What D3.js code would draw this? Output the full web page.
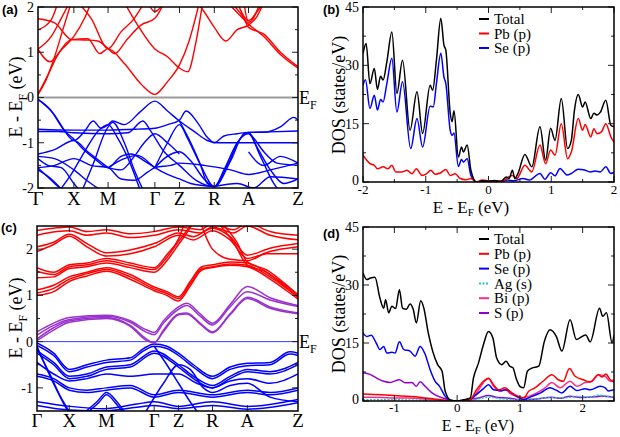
<!DOCTYPE html>
<html><head><meta charset="utf-8">
<script src="https://cdn.jsdelivr.net/npm/d3@7"></script>
<style>body{margin:0;background:#fff}svg{display:block}</style>
</head><body><svg id="c" width="620" height="437"></svg>
<script>
// ---------------- DATA ----------------
const kLabels = ["Γ","X","M","Γ","Z","R","A","Z"];
const kPosA = [0,1.08,2.11,3.52,4.26,5.31,6.34,7.83];
const kPosC = [0,0.97,2.09,3.52,4.25,5.27,6.32,7.84];

// panel (a) conduction bands (k, E)
const bandsA_cond = [
 [[0,0.07],[0.25,0.4],[0.5,0.9],[0.75,1.5],[1.0,2.1]],
 [[0,0.07],[0.3,0.5],[0.6,0.95],[1.01,1.28],[1.5,1.3],[1.86,0.97],[2.11,1.08],[2.6,0.75],[3.1,0.3],[3.52,0.07],[3.9,0.35],[4.26,0.72],[4.55,1.25],[4.86,2.1]],
 [[0,1.07],[0.36,0.79],[0.7,1.05],[1.08,1.35],[1.4,1.75],[1.6,2.1]],
 [[0,1.07],[0.4,1.35],[0.7,1.75],[0.95,2.1]],
 [[0,1.5],[0.4,1.72],[0.6,2.1]],
 [[0,1.74],[0.5,1.65],[1.01,1.28],[1.4,1.27],[1.8,1.25],[2.11,1.08],[2.31,0.97],[2.7,1.3],[3.1,1.6],[3.52,1.75],[3.8,2.1]],
 [[1.2,2.1],[1.6,1.75],[2.11,1.08],[2.5,1.45],[2.9,1.75],[3.2,2.1]],
 [[2.6,2.1],[3.0,1.6],[3.52,1.07],[3.9,0.9],[4.26,0.65],[4.51,0.57],[4.75,1.2],[4.96,2.1]],
 [[3.3,2.1],[3.52,1.9],[3.8,2.1]],
 [[4.8,2.1],[5.0,1.9],[5.31,1.55],[5.66,1.25],[6.0,1.5],[6.34,1.6],[6.6,1.8],[6.8,2.1]],
 [[5.7,2.1],[6.1,1.8],[6.34,1.62],[6.8,1.35],[7.3,0.95],[7.83,0.65]],
 [[5.8,2.1],[6.2,1.75],[6.34,1.55],[6.8,1.4],[7.3,1.0],[7.83,0.68]],
 [[6.0,2.1],[6.34,1.7],[6.6,1.9],[6.8,2.1]],
 [[6.2,2.1],[6.34,1.66],[6.7,2.1]]
];
// panel (a) valence bands
const bandsA_val = [
 [[0,-0.04],[0.36,-0.26],[0.76,-0.7],[1.08,-0.95],[1.4,-0.75],[1.66,-0.52],[1.9,-0.68],[2.11,-0.6],[2.25,-0.52],[2.6,-0.6],[3.1,-0.3],[3.52,-0.08],[3.9,-0.3],[4.26,-0.52],[4.7,-0.75],[5.1,-0.95],[5.4,-1.0],[6.34,-1.0],[7.83,-1.0]],
 [[0,-0.04],[0.46,-0.35],[0.86,-0.78],[1.08,-0.92],[1.3,-1.1],[1.7,-1.35],[2.11,-1.55],[2.5,-1.3],[2.8,-1.25],[3.2,-1.4],[3.52,-1.55]],
 [[0,-0.7],[1.08,-0.72],[2.11,-0.72],[3.0,-0.7],[3.52,-0.68],[3.9,-0.6],[4.26,-0.5],[4.46,-0.3],[4.8,-0.55],[5.1,-0.88],[5.31,-1.0],[5.6,-0.85],[6.0,-0.8],[6.34,-0.77],[7.0,-0.76],[7.83,-0.74]],
 [[0,-0.75],[0.6,-0.75],[1.08,-0.78],[2.11,-0.8],[2.7,-0.78],[3.16,-0.52],[3.4,-0.75],[3.8,-1.2],[4.26,-1.5],[4.8,-1.85],[5.31,-1.97],[5.8,-1.4],[6.2,-0.8],[6.34,-0.77],[6.8,-0.77],[7.3,-0.65],[7.71,-0.44],[7.83,-0.5]],
 [[0,-1.3],[0.5,-1.35],[1.08,-1.6],[1.5,-1.85],[2.0,-2.1]],
 [[0,-1.55],[0.5,-1.5],[1.08,-1.35],[1.6,-1.5],[2.11,-1.55],[2.5,-1.8],[2.9,-1.83],[3.3,-1.65],[3.52,-1.55],[4.0,-1.5],[4.26,-1.45],[5.0,-1.5],[5.8,-1.6],[6.34,-1.7],[7.0,-1.6],[7.83,-1.45]],
 [[0,-1.6],[0.4,-1.8],[0.8,-2.1]],
 [[0.6,-2.1],[1.0,-1.7],[1.4,-1.2],[1.8,-0.75],[2.11,-0.6],[2.4,-0.9],[2.8,-1.5],[3.1,-2.1]],
 [[1.3,-2.1],[1.7,-1.4],[2.0,-0.8],[2.25,-0.55],[2.6,-1.0],[2.9,-1.6],[3.2,-2.1]],
 [[2.11,-1.55],[2.6,-1.35],[3.0,-1.28],[3.52,-1.55],[3.9,-1.7],[4.26,-1.8],[4.6,-1.9],[5.31,-1.97]],
 [[3.52,-1.55],[3.8,-1.35],[4.26,-1.2],[4.6,-1.4],[5.0,-1.8],[5.31,-1.97],[5.6,-1.6],[6.0,-1.0],[6.34,-0.77],[6.6,-1.1],[7.0,-1.6],[7.4,-1.9],[7.83,-1.8]],
 [[3.52,-1.55],[3.9,-1.0],[4.26,-0.6],[4.5,-0.9],[4.9,-1.5],[5.31,-1.97],[5.7,-1.5],[6.1,-0.9],[6.34,-0.8],[6.7,-1.3],[7.1,-1.9],[7.3,-2.1]],
 [[6.34,-1.2],[6.8,-1.5],[7.3,-1.3],[7.83,-1.45]],
 [[5.31,-1.97],[6.0,-1.9],[6.5,-2.0],[7.0,-1.75],[7.83,-1.8]],
 [[0,-1.35],[0.3,-1.5],[0.7,-1.55],[1.08,-1.9],[1.3,-2.1]],
 [[0,-1.55],[0.5,-1.9],[0.8,-2.1]],
 [[0,-1.25],[0.5,-1.15],[1.08,-0.95],[1.5,-1.2],[2.11,-1.55]],
 [[2.11,-1.55],[2.5,-1.6],[2.9,-1.3],[3.2,-1.0],[3.52,-0.8],[3.9,-1.0],[4.26,-1.25]],
 [[4.26,-0.52],[4.6,-1.0],[4.9,-1.5],[5.1,-1.9],[5.31,-1.97]],
 [[6.34,-0.77],[6.5,-0.9],[6.8,-1.2],[7.2,-1.45],[7.83,-1.5]]
];

// panel (c)
const bandsC_cond = [
 [[0,1.0],[0.5,1.08],[0.97,1.3],[1.5,1.42],[2.09,1.52],[2.8,1.35],[3.52,1.1],[3.9,1.0],[4.25,0.88],[4.6,1.2],[4.95,1.55],[5.27,1.6],[5.8,1.65],[6.32,1.62],[7.0,1.35],[7.5,1.1],[7.84,0.92]],
 [[0,1.05],[0.5,1.15],[0.97,1.35],[1.5,1.47],[2.09,1.56],[2.8,1.4],[3.52,1.14],[3.9,1.04],[4.25,0.93],[4.6,1.25],[4.95,1.58],[5.27,1.62],[5.8,1.68],[6.32,1.65],[7.0,1.4],[7.5,1.15],[7.84,0.97]],
 [[0,1.12],[0.5,1.22],[0.97,1.4],[1.5,1.5],[2.09,1.6],[2.8,1.45],[3.52,1.18],[3.9,1.08],[4.25,0.97],[4.6,1.3],[4.95,1.62],[5.27,1.66],[5.8,1.72],[6.32,1.7],[7.0,1.45],[7.5,1.2],[7.84,1.02]],
 [[0,1.38],[0.5,1.4],[0.97,1.58],[1.5,1.62],[2.09,1.7],[2.8,1.6],[3.52,1.5],[3.9,1.75],[4.25,2.1],[4.5,2.35],[4.7,2.6]],
 [[0,1.52],[0.5,1.45],[0.97,1.62],[1.5,1.66],[2.09,1.75],[2.8,1.65],[3.52,1.56],[3.9,1.82],[4.25,2.17],[4.5,2.4],[4.7,2.6]],
 [[0,1.6],[0.5,1.5],[0.97,1.66],[1.5,1.7],[2.09,1.8],[2.8,1.7],[3.52,1.6],[3.9,1.88],[4.25,2.22],[4.45,2.6]],
 [[0,1.95],[0.5,2.1],[0.97,2.28],[1.5,2.05],[2.09,1.85],[2.8,1.9],[3.52,2.05],[4.25,2.3],[4.7,2.2],[5.27,2.4],[5.8,2.2],[6.32,1.8],[7.0,1.95],[7.84,2.05]],
 [[0,2.05],[0.5,2.15],[0.97,2.32],[1.5,2.12],[2.09,1.92],[2.8,1.98],[3.52,2.12],[4.25,2.35],[4.7,2.27],[5.27,2.45],[5.8,2.27],[6.32,1.87],[7.0,2.02],[7.84,2.12]],
 [[0,2.3],[0.6,2.38],[0.97,2.4],[1.5,2.3],[2.09,2.35],[2.8,2.25],[3.52,2.3],[4.25,2.42],[4.9,2.35],[5.27,2.48],[5.9,2.35],[6.32,2.5],[7.0,2.3],[7.84,2.2]],
 [[0,2.4],[0.6,2.46],[0.97,2.48],[1.5,2.38],[2.09,2.42],[2.8,2.33],[3.52,2.38],[4.25,2.48],[4.9,2.42],[5.27,2.55],[5.9,2.42],[6.32,2.56],[7.0,2.38],[7.84,2.3]],
 [[5.4,2.6],[5.9,2.15],[6.32,1.65],[6.9,1.5],[7.4,1.22],[7.84,0.95]],
 [[5.5,2.6],[6.0,2.15],[6.32,1.72],[6.9,1.55],[7.4,1.28],[7.84,1.0]],
 [[4.9,2.6],[5.27,2.0],[5.8,1.78],[6.32,1.75],[6.9,1.9],[7.84,1.9]]
];
const bandsC_mid = [
 [[0,0.21],[0.5,0.4],[0.97,0.52],[2.09,0.57],[2.8,0.45],[3.3,0.25],[3.52,0.2],[3.8,0.45],[4.25,0.75],[4.5,0.83],[4.9,0.6],[5.27,0.4],[5.8,0.8],[6.32,1.19],[7.0,0.95],[7.84,0.78]],
 [[0,0.14],[0.5,0.35],[0.97,0.48],[2.09,0.55],[2.8,0.42],[3.3,0.2],[3.52,0.15],[3.8,0.4],[4.25,0.7],[4.5,0.78],[4.9,0.55],[5.27,0.36],[5.8,0.75],[6.32,1.08],[7.0,0.9],[7.84,0.76]],
 [[0,0.06],[0.5,0.3],[0.97,0.45],[2.09,0.52],[2.8,0.35],[3.3,0.05],[3.52,-0.03],[3.8,0.25],[4.25,0.6],[4.5,0.62],[4.9,0.4],[5.27,0.21],[5.8,0.6],[6.32,0.96],[7.0,0.75],[7.84,0.62]],
 [[0,0.02],[0.5,0.25],[0.97,0.42],[2.09,0.5],[2.8,0.33],[3.3,0.02],[3.52,-0.02],[3.8,0.22],[4.25,0.58],[4.5,0.6],[4.9,0.38],[5.27,0.19],[5.8,0.58],[6.32,0.93],[7.0,0.72],[7.84,0.6]]
];
const bandsC_val = [
 [[0,-0.03],[0.5,-0.25],[0.97,-0.6],[1.5,-0.5],[2.09,-0.4],[2.8,-0.35],[3.2,-0.15],[3.52,-0.05],[3.9,-0.1],[4.25,-0.25],[4.7,-0.5],[5.27,-0.75],[5.8,-0.55],[6.32,-0.47],[7.0,-0.45],[7.6,-0.22],[7.84,-0.25]],
 [[0,-0.08],[0.5,-0.3],[0.97,-0.65],[1.5,-0.55],[2.09,-0.45],[2.8,-0.4],[3.2,-0.2],[3.52,-0.1],[3.9,-0.15],[4.25,-0.3],[4.7,-0.55],[5.27,-0.8],[5.8,-0.6],[6.32,-0.52],[7.0,-0.5],[7.6,-0.27],[7.84,-0.3]],
 [[0,-0.2],[0.5,-0.45],[0.97,-0.75],[1.5,-0.7],[2.09,-0.55],[2.8,-0.5],[3.52,-0.2],[4.25,-0.5],[4.7,-0.75],[5.27,-0.95],[5.8,-0.75],[6.32,-0.6],[7.0,-0.65],[7.84,-0.45]],
 [[0,-0.25],[0.5,-0.5],[0.97,-0.8],[1.5,-0.75],[2.09,-0.6],[2.8,-0.55],[3.52,-0.25],[4.25,-0.55],[4.7,-0.8],[5.27,-1.0],[5.8,-0.8],[6.32,-0.65],[7.0,-0.7],[7.84,-0.5]],
 [[0,-0.45],[0.5,-0.7],[0.97,-0.85],[1.5,-0.8],[2.09,-0.7],[2.8,-0.75],[3.52,-0.7],[4.25,-0.7],[4.8,-0.9],[5.27,-1.0],[5.8,-0.85],[6.32,-0.8],[7.0,-0.9],[7.84,-0.7]],
 [[0,-0.7],[0.5,-0.8],[0.97,-1.0],[1.5,-1.05],[2.09,-1.0],[2.8,-0.95],[3.52,-1.15],[4.25,-1.05],[5.27,-1.15],[6.32,-1.05],[7.0,-1.1],[7.84,-1.0]],
 [[0,-0.75],[0.5,-0.85],[0.97,-1.05],[1.5,-1.1],[2.09,-1.05],[2.8,-1.0],[3.52,-1.2],[4.25,-1.1],[5.27,-1.2],[6.32,-1.1],[7.0,-1.15],[7.84,-1.05]],
 [[1.3,-1.6],[1.8,-1.3],[2.09,-1.1],[2.4,-1.3],[2.7,-1.6]],
 [[1.4,-1.6],[1.85,-1.32],[2.09,-1.15],[2.35,-1.32],[2.65,-1.6]],
 [[0,-1.3],[1.0,-1.4],[2.0,-1.45],[3.0,-1.35],[3.52,-1.3],[4.25,-1.4],[5.27,-1.3],[6.32,-1.4],[7.84,-1.25]],
 [[0,-1.38],[1.0,-1.48],[2.0,-1.5],[3.0,-1.42],[3.52,-1.38],[4.25,-1.45],[5.27,-1.38],[6.32,-1.46],[7.84,-1.32]],
 [[3.52,-0.1],[3.9,-0.5],[4.25,-0.9],[4.6,-1.3],[4.9,-1.6]],
 [[3.2,-1.6],[3.8,-0.9],[4.25,-0.5],[4.6,-0.6],[5.0,-1.0],[5.27,-1.1],[5.8,-0.95],[6.32,-0.9],[7.0,-1.2],[7.84,-1.3]],
 [[0,-0.1],[0.3,-0.6],[0.7,-1.2],[1.0,-1.6]],
 [[0,-0.15],[0.35,-0.65],[0.75,-1.25],[1.05,-1.6]]
];

// panel (b) DOS (E, states/eV)
const dosB_total = [[-2,33],[-1.95,35.6],[-1.89,25.3],[-1.82,29.2],[-1.77,23.8],[-1.72,27.2],[-1.68,26.2],[-1.62,30.9],[-1.54,38.6],[-1.46,22.8],[-1.37,31.3],[-1.25,13.3],[-1.14,23.2],[-1.05,12.5],[-0.93,24.9],[-0.89,23.6],[-0.83,31.3],[-0.76,42.1],[-0.71,35.2],[-0.68,33.9],[-0.61,17.7],[-0.58,15.5],[-0.55,18.3],[-0.48,6.4],[-0.43,9.0],[-0.40,7.7],[-0.34,9.5],[-0.28,3.0],[-0.19,0],[-0.1,0.3],[0,0.2],[0.1,0.3],[0.2,0.1],[0.28,1.3],[0.33,0.9],[0.38,3.0],[0.42,0.9],[0.47,2.2],[0.58,7.1],[0.69,3.9],[0.82,14.2],[0.91,5.6],[0.99,13.8],[1.06,10.7],[1.16,21.5],[1.26,8.6],[1.32,10.7],[1.37,18.5],[1.43,22.5],[1.50,19.3],[1.54,20.6],[1.63,16.3],[1.68,17.7],[1.73,17.2],[1.78,17.9],[1.87,21.0],[1.95,14.6],[2.0,14.2]];
const dosB_pb = [[-2,6.9],[-1.94,5.6],[-1.89,4.7],[-1.82,4.3],[-1.77,3.4],[-1.68,3.9],[-1.6,3.4],[-1.54,4.3],[-1.48,2.6],[-1.38,2.6],[-1.30,3.0],[-1.22,2.1],[-1.15,3.4],[-1.06,1.7],[-0.99,2.1],[-0.92,3.0],[-0.85,2.0],[-0.77,2.3],[-0.68,3.2],[-0.61,1.7],[-0.53,2.1],[-0.45,0.9],[-0.36,0.6],[-0.28,0.9],[-0.19,0],[-0.1,0.5],[0,0.3],[0.1,0.2],[0.24,0.4],[0.32,1.3],[0.38,1.7],[0.45,0.9],[0.58,4.3],[0.69,2.6],[0.82,9.5],[0.91,4.7],[0.99,8.2],[1.06,6.9],[1.16,15.0],[1.26,6.0],[1.32,7.7],[1.43,16.3],[1.5,13.3],[1.54,14.8],[1.63,11.6],[1.68,13.7],[1.73,12.4],[1.8,12.9],[1.87,15.0],[1.95,11.6],[2.0,10.3]];
const dosB_se = [[-2,24.9],[-1.96,26.3],[-1.89,18.9],[-1.82,22.3],[-1.77,18.5],[-1.72,21.2],[-1.68,20.6],[-1.62,25.3],[-1.54,31.8],[-1.46,18.0],[-1.37,25.8],[-1.24,8.6],[-1.14,16.3],[-1.05,9.0],[-0.93,19.5],[-0.88,19.3],[-0.83,25.3],[-0.76,33.1],[-0.71,27.0],[-0.68,25.3],[-0.61,13.3],[-0.58,12.0],[-0.55,12.6],[-0.48,4.0],[-0.43,5.8],[-0.40,5.1],[-0.34,6.0],[-0.28,1.7],[-0.19,0],[0,0.2],[0.1,0.4],[0.2,0.1],[0.3,0.5],[0.4,0.3],[0.55,0.9],[0.65,0.5],[0.82,2.2],[0.9,0.7],[0.99,2.4],[1.06,1.6],[1.14,3.5],[1.25,1.8],[1.32,2.2],[1.43,3.3],[1.53,3.1],[1.62,2.6],[1.7,2.8],[1.78,2.6],[1.87,3.9],[1.95,2.2],[2.0,2.5]];

// panel (d) DOS
const dosD_total = [[-1.5,33.1],[-1.44,31.4],[-1.38,31.8],[-1.31,32.0],[-1.23,26.6],[-1.17,24.0],[-1.14,26.2],[-1.09,22.8],[-1.04,24.5],[-0.98,23.9],[-0.92,28.8],[-0.87,24.0],[-0.81,23.7],[-0.75,25.1],[-0.70,23.7],[-0.65,20.2],[-0.58,25.9],[-0.53,24.0],[-0.46,17.6],[-0.39,12.9],[-0.31,9.4],[-0.24,7.7],[-0.19,2.5],[-0.11,0.3],[0,0],[0.1,0.3],[0.21,0.8],[0.26,5.9],[0.34,9.8],[0.42,14.6],[0.50,18.0],[0.57,16.3],[0.63,11.1],[0.71,9.4],[0.78,10.3],[0.84,9.0],[0.89,8.6],[0.94,5.9],[1.0,3.8],[1.06,3.4],[1.12,7.7],[1.19,8.5],[1.30,9.0],[1.39,15.4],[1.48,18.4],[1.58,16.7],[1.67,12.9],[1.80,21.0],[1.90,15.9],[2.05,17.1],[2.12,15.3],[2.27,24.0],[2.32,21.9],[2.38,22.8],[2.47,15.0],[2.5,17.0]];
const dosD_pb = [[-1.5,1.8],[-1.2,1.6],[-1.0,1.4],[-0.8,1.2],[-0.6,1.0],[-0.4,0.6],[-0.2,0.2],[0,0],[0.21,0.4],[0.31,2.9],[0.42,5.1],[0.50,5.9],[0.58,4.2],[0.66,2.9],[0.76,3.4],[0.87,2.1],[0.98,1.2],[1.06,0.8],[1.14,2.5],[1.24,3.4],[1.37,5.1],[1.51,6.8],[1.61,5.5],[1.69,5.1],[1.79,8.4],[1.88,6.4],[2.01,5.5],[2.12,4.9],[2.25,6.8],[2.31,6.2],[2.37,7.0],[2.44,5.5],[2.5,4.9]];
const dosD_se = [[-1.5,17.6],[-1.44,16.7],[-1.37,17.0],[-1.29,15.0],[-1.23,13.3],[-1.17,14.1],[-1.12,12.4],[-1.04,12.6],[-0.99,12.4],[-0.92,15.3],[-0.85,13.3],[-0.75,12.9],[-0.67,11.6],[-0.59,14.1],[-0.51,12.1],[-0.43,8.1],[-0.35,5.1],[-0.28,3.8],[-0.19,1.2],[-0.11,0.1],[0,0],[0.1,0.1],[0.21,0.4],[0.31,1.7],[0.42,3.2],[0.50,4.2],[0.58,2.9],[0.69,2.7],[0.78,2.9],[0.9,1.7],[1.06,0.4],[1.19,1.2],[1.33,2.1],[1.48,3.4],[1.59,2.7],[1.67,2.1],[1.80,3.8],[1.91,2.7],[2.04,3.2],[2.12,2.9],[2.28,3.8],[2.36,3.4],[2.41,2.6],[2.5,2.9]];
const dosD_ag = [[-1.5,0.3],[-1.0,0.3],[-0.5,0.2],[0,0],[0.3,0.4],[0.5,1.0],[0.7,0.6],[1.0,0.3],[1.2,0.5],[1.5,0.9],[1.7,0.8],[1.9,1.2],[2.1,1.0],[2.25,1.5],[2.4,1.2],[2.5,1.0]];
const dosD_bi = [[-1.5,1.0],[-1.2,0.9],[-1.0,0.8],[-0.8,0.8],[-0.6,0.6],[-0.4,0.4],[-0.2,0.1],[0,0],[0.2,0.3],[0.31,2.1],[0.42,4.8],[0.50,5.8],[0.58,3.8],[0.69,2.5],[0.76,2.9],[0.87,1.7],[1.03,0.8],[1.14,1.2],[1.27,2.1],[1.40,3.4],[1.51,4.8],[1.64,3.4],[1.80,5.1],[1.91,3.8],[2.04,4.8],[2.15,5.1],[2.25,6.8],[2.36,6.4],[2.44,5.1],[2.5,5.5]];
const dosD_s = [[-1.5,7.4],[-1.39,6.9],[-1.28,5.9],[-1.17,5.1],[-1.07,4.8],[-0.92,5.5],[-0.83,4.7],[-0.72,4.8],[-0.65,3.8],[-0.59,5.0],[-0.51,3.8],[-0.40,2.1],[-0.30,1.2],[-0.19,0.6],[-0.06,0],[0.1,0.1],[0.2,0.3],[0.35,0.8],[0.5,1.4],[0.65,0.9],[0.8,0.8],[1.0,0.3],[1.15,0.4],[1.3,0.6],[1.5,1.0],[1.65,0.7],[1.8,1.2],[2.0,0.9],[2.2,1.1],[2.3,1.3],[2.5,0.9]];

const legendB = ["Total","Pb (p)","Se (p)"];
const legendD = ["Total","Pb (p)","Se (p)","Ag (s)","Bi (p)","S (p)"];
const yTicksA = [-2,-1,0,1,2], yTicksC = [-1,0,1,2];
const xTicksB = [-2,-1,0,1,2], xTicksD = [-1,0,1,2];
const dosTicks = [0,15,30,45];

// ---------------- DRAW ----------------
const svg = d3.select("#c");
const serif = "'Liberation Serif','Times New Roman',serif";
const sans = "'Liberation Sans',Arial,sans-serif";
const RED="#ff0000", BLUE="#0000ff", PURPLE="#9a32cd", BLACK="#000";

function frameTicks(g,f,xs,ys,xMaj,xMin,yMaj,yMin){
  const add=(x1,y1,x2,y2)=>g.append("line").attr("x1",x1).attr("y1",y1).attr("x2",x2).attr("y2",y2).attr("stroke","#222").attr("stroke-width",1);
  xMaj.forEach(v=>{const x=xs(v); add(x,f.b,x,f.b-6); add(x,f.t,x,f.t+6);});
  xMin.forEach(v=>{const x=xs(v); add(x,f.b,x,f.b-3); add(x,f.t,x,f.t+3);});
  yMaj.forEach(v=>{const y=ys(v); add(f.l,y,f.l+6,y); add(f.r,y,f.r-6,y);});
  yMin.forEach(v=>{const y=ys(v); add(f.l,y,f.l+3,y); add(f.r,y,f.r-3,y);});
  g.append("rect").attr("x",f.l).attr("y",f.t).attr("width",f.r-f.l).attr("height",f.b-f.t)
    .attr("fill","none").attr("stroke","#000").attr("stroke-width",1.5);
}
function clip(id,f){
  svg.append("clipPath").attr("id",id).append("rect").attr("x",f.l).attr("y",f.t).attr("width",f.r-f.l).attr("height",f.b-f.t);
}
function efLabel(x,y){
  const t=svg.append("text").attr("x",x).attr("y",y).attr("font-family",serif).attr("font-size",18).text("E");
  t.append("tspan").attr("dy",5).attr("font-size",12).text("F");
}
function yLabel(x,y,txt1,sub,txt2){
  const t=svg.append("text").attr("transform",`translate(${x},${y}) rotate(-90)`).attr("text-anchor","middle")
    .attr("font-family",serif).attr("font-size",18);
  t.append("tspan").text(txt1);
  if(sub){ t.append("tspan").attr("dy",5).attr("font-size",12).text(sub);
           t.append("tspan").attr("dy",-5).text(txt2); }
}
function xLabel(x,y,size){
  const t=svg.append("text").attr("x",x).attr("y",y).attr("text-anchor","middle").attr("font-family",serif).attr("font-size",size);
  t.append("tspan").text("E - E");
  t.append("tspan").attr("dy",3).attr("font-size",11).text("F");
  t.append("tspan").attr("dy",-3).text(" (eV)");
}
function panelTag(x,y,s){
  svg.append("text").attr("x",x).attr("y",y).attr("font-family",sans).attr("font-weight","bold").attr("font-size",13).text(s);
}

function bandPanel(id,f,kPos,yDom,yMaj,yMin,groups,efColor,efWidth,labY,tickX){
  clip(id,f);
  const xs=d3.scaleLinear().domain([0,kPos[kPos.length-1]]).range([f.l,f.r]);
  const ys=d3.scaleLinear().domain(yDom).range([f.b,f.t]);
  const g=svg.append("g");
  const plot=g.append("g").attr("clip-path",`url(#${id})`);
  const line=d3.line().x(d=>xs(d[0])).y(d=>ys(d[1])).curve(d3.curveMonotoneX);
  plot.append("line").attr("x1",f.l).attr("x2",f.r).attr("y1",ys(0)).attr("y2",ys(0)).attr("stroke",efColor).attr("stroke-width",efWidth);
  groups.forEach(gr=>{
    plot.selectAll(null).data(gr.bands).enter().append("path").attr("d",line)
      .attr("fill","none").attr("stroke",gr.color).attr("stroke-width",gr.w);
  });
  frameTicks(g,f,xs,ys,kPos.slice(1,-1),[],yMaj,yMin);
  g.selectAll(null).data(yMaj).enter().append("text").attr("x",tickX).attr("y",d=>ys(d)).attr("dy","0.35em")
    .attr("text-anchor","end").attr("font-family",serif).attr("font-size",14).text(d=>d);
  g.selectAll(null).data(kLabels).enter().append("text").attr("x",(d,i)=>xs(kPos[i])).attr("y",labY)
    .attr("text-anchor","middle").attr("font-family",serif).attr("font-size",19).text(d=>d);
}

function dosPanel(id,f,xDom,xMaj,xMin,series,legend,legY0,legDy,labY){
  clip(id,f);
  const xs=d3.scaleLinear().domain(xDom).range([f.l,f.r]);
  const ys=d3.scaleLinear().domain([0,45]).range([f.b,f.t]);
  const g=svg.append("g");
  const plot=g.append("g").attr("clip-path",`url(#${id})`);
  const line=d3.line().x(d=>xs(d[0])).y(d=>ys(d[1])).curve(d3.curveMonotoneX);
  series.slice().reverse().forEach(s=>{
    plot.append("path").attr("d",line(s.data)).attr("fill","none").attr("stroke",s.color)
      .attr("stroke-width",s.w||1.5).attr("stroke-dasharray",s.dash||null);
  });
  frameTicks(g,f,xs,ys,xMaj,xMin,dosTicks,[7.5,22.5,37.5]);
  g.selectAll(null).data(dosTicks).enter().append("text").attr("x",f.l-4).attr("y",d=>ys(d)).attr("dy",d=>d===0?"0.2em":"0.35em")
    .attr("text-anchor","end").attr("font-family",serif).attr("font-size",14).text(d=>d);
  g.selectAll(null).data(xMaj).enter().append("text").attr("x",d=>xs(d)).attr("y",labY)
    .attr("text-anchor","middle").attr("font-family",serif).attr("font-size",13).text(d=>d);
  legend.forEach((name,i)=>{
    const y=legY0+i*legDy, s=series[i];
    g.append("line").attr("x1",479).attr("x2",489).attr("y1",y).attr("y2",y).attr("stroke",s.color)
      .attr("stroke-width",2).attr("stroke-dasharray",s.dash||null);
    g.append("text").attr("x",494).attr("y",y).attr("dy","0.35em").attr("font-family",serif).attr("font-size",15).text(name);
  });
}

// Panel (a)
const fA={l:38,r:298,t:7,b:188};
bandPanel("clipA",fA,kPosA,[-2,2],yTicksA,[-1.5,-0.5,0.5,1.5],
  [{bands:bandsA_val,color:BLUE,w:1.4},{bands:bandsA_cond,color:RED,w:1.4}],"#9a9a9a",2,205,34);
// Panel (c)
const fC={l:37,r:298,t:226,b:411};
bandPanel("clipC",fC,kPosC,[-1.5,2.5],yTicksC,[-0.5,0.5,1.5],
  [{bands:bandsC_val,color:BLUE,w:1.5},{bands:bandsC_cond,color:RED,w:1.5},{bands:bandsC_mid,color:PURPLE,w:1.5}],"#3a3aff",1,427,33);
// Panel (b)
const fB={l:363,r:614,t:7,b:182};
dosPanel("clipB",fB,[-2,2],xTicksB,[-1.5,-0.5,0.5,1.5],
  [{data:dosB_total,color:BLACK},{data:dosB_pb,color:RED},{data:dosB_se,color:BLUE}],legendB,19,14.5,194);
// Panel (d)
const fD={l:363,r:614,t:227,b:401};
dosPanel("clipD",fD,[-1.5,2.5],xTicksD,[-1.5,-0.5,0.5,1.5,2.5],
  [{data:dosD_total,color:BLACK},{data:dosD_pb,color:RED},{data:dosD_se,color:BLUE},
   {data:dosD_ag,color:"#20c8d0",dash:"2,1.5"},{data:dosD_bi,color:"#ff2a8a"},{data:dosD_s,color:"#9400d3"}],
  legendD,239,14.8,412);

// labels
efLabel(299,104); efLabel(299,348);
yLabel(22,97,"E - E","F"," (eV)");
yLabel(22,318,"E - E","F"," (eV)");
yLabel(345,95,"DOS (states/eV)");
yLabel(345,314,"DOS (states/eV)");
xLabel(471,213,17); xLabel(478,431,16);
panelTag(2,14,"(a)"); panelTag(323,14,"(b)");
panelTag(1,232,"(c)"); panelTag(323,238,"(d)");
</script></body></html>
